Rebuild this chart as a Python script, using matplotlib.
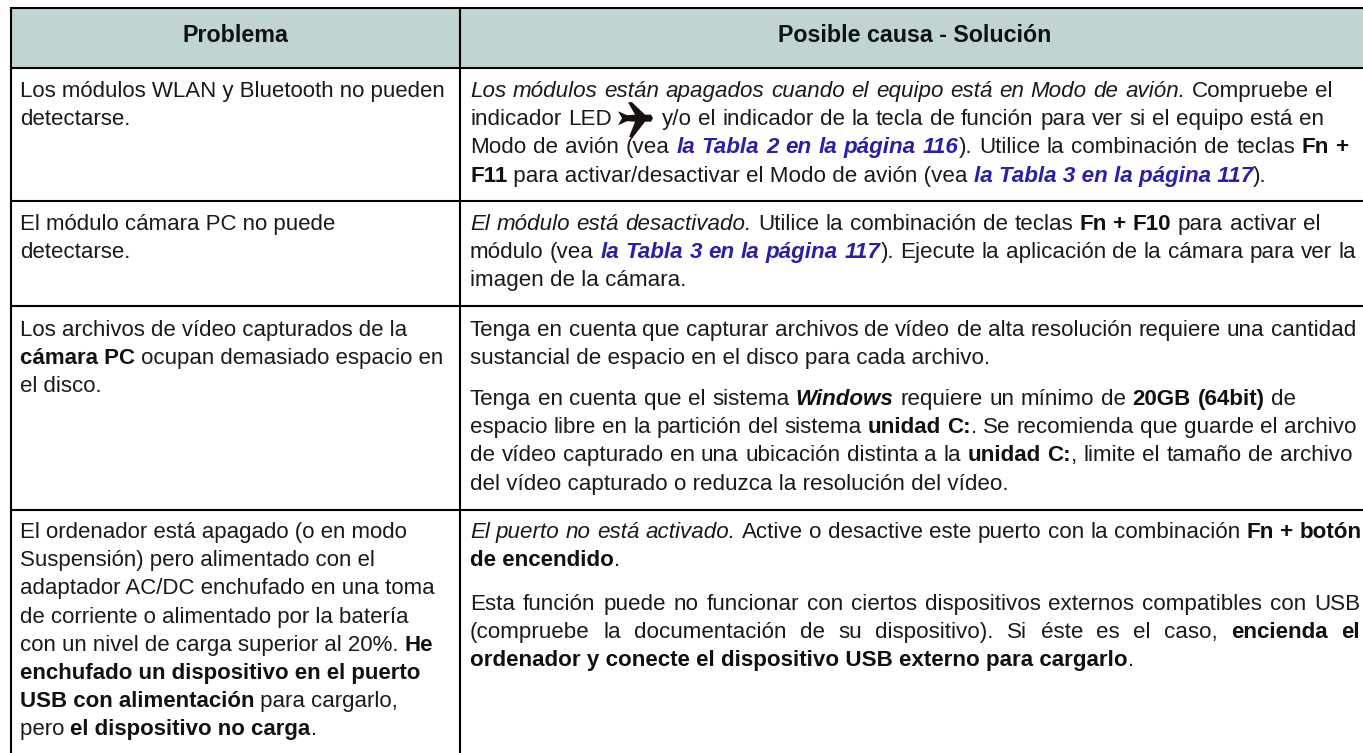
import matplotlib
matplotlib.use("Agg")
import matplotlib.pyplot as plt
from matplotlib.patches import Rectangle, Polygon

W, H = 1363, 753
HEADERS = ["Problema", "Posible causa - Solución"]
LEFT = [
    (97, [[("r", "Los módulos WLAN y Bluetooth no pueden")], [("r", "detectarse.")]]),
    (230, [[("r", "El módulo cámara PC no puede")], [("r", "detectarse.")]]),
    (336, [[("r", "Los archivos de vídeo capturados de la")],
           [("b", "cámara PC"), ("r", " ocupan demasiado espacio en")],
           [("r", "el disco.")]]),
    (538, [[("r", "El ordenador está apagado (o en modo")],
           [("r", "Suspensión) pero alimentado con el")],
           [("r", "adaptador AC/DC enchufado en una toma")],
           [("r", "de corriente o alimentado por la batería")],
           [("r", "con un nivel de carga superior al 20%. "), ("b", "He")],
           [("b", "enchufado un dispositivo en el puerto")],
           [("b", "USB con alimentación"), ("r", " para cargarlo,")],
           [("r", "pero "), ("b", "el dispositivo no carga"), ("r", ".")]]),
]
RIGHT = [
    (97, [[("i", "Los módulos están apagados cuando el equipo está en Modo de avión."), ("r", " Compruebe el")],
          [("r", "indicador LED "), ("p", ""), ("r", " y/o el indicador de la tecla de función para ver si el equipo está en")],
          [("r", "Modo de avión (vea "), ("l", "la Tabla 2 en la página 116"), ("r", "). Utilice la combinación de teclas "), ("b", "Fn +")],
          [("b", "F11"), ("r", " para activar/desactivar el Modo de avión (vea "), ("l", "la Tabla 3 en la página 117"), ("r", ").")]]),
    (230, [[("i", "El módulo está desactivado."), ("r", " Utilice la combinación de teclas "), ("b", "Fn + F10"), ("r", " para activar el")],
           [("r", "módulo (vea "), ("l", "la Tabla 3 en la página 117"), ("r", "). Ejecute la aplicación de la cámara para ver la")],
           [("r", "imagen de la cámara.")]]),
    (336, [[("r", "Tenga en cuenta que capturar archivos de vídeo de alta resolución requiere una cantidad")],
           [("r", "sustancial de espacio en el disco para cada archivo.")]]),
    (405, [[("r", "Tenga en cuenta que el sistema "), ("bi", "Windows"), ("r", " requiere un mínimo de "), ("b", "20GB (64bit)"), ("r", " de")],
           [("r", "espacio libre en la partición del sistema "), ("b", "unidad C:"), ("r", ". Se recomienda que guarde el archivo")],
           [("r", "de vídeo capturado en una ubicación distinta a la "), ("b", "unidad C:"), ("r", ", limite el tamaño de archivo")],
           [("r", "del vídeo capturado o reduzca la resolución del vídeo.")]]),
    (538, [[("i", "El puerto no está activado."), ("r", " Active o desactive este puerto con la combinación "), ("b", "Fn + botón")],
           [("b", "de encendido"), ("r", ".")]]),
    (610, [[("r", "Esta función puede no funcionar con ciertos dispositivos externos compatibles con USB")],
           [("r", "(compruebe la documentación de su dispositivo). Si éste es el caso, "), ("b", "encienda el")],
           [("b", "ordenador y conecte el dispositivo USB externo para cargarlo"), ("r", ".")]]),
]
# right edges of the justified lines: (block, line) -> x
RIGHT_EDGES = {(0, 0): 1333, (0, 1): 1324, (0, 2): 1349,
               (1, 0): 1320, (1, 1): 1356,
               (2, 0): 1356,
               (3, 0): 1296, (3, 1): 1356, (3, 2): 1352,
               (4, 0): 1360,
               (5, 0): 1360, (5, 1): 1360}
STYLES = {"r": ("normal", "normal", "#1a1a1a"), "b": ("bold", "normal", "#111111"),
          "i": ("normal", "italic", "#1a1a1a"), "bi": ("bold", "italic", "#111111"),
          "l": ("bold", "italic", "#2a1fa8")}
X0, X1, X2 = 11, 460, 1364
YS = [7.7, 67.7, 201, 306, 510]
PITCH = 28.2
PT_LEFT, PT_RIGHT, PT_HEAD = 16.05, 16.1, 16.75
LW = 1.5
FAM = "Liberation Sans"
PLANE_ADV = 37

fig = plt.figure(figsize=(W / 100, H / 100), dpi=100)
ax = fig.add_axes([0, 0, 1, 1])
ax.set_xlim(0, W); ax.set_ylim(H, 0); ax.axis("off")
ax.add_patch(Rectangle((X0, YS[0]), X2 - X0, YS[1] - YS[0], fc="#c0d5d3", ec="none"))
for y in YS:
    ax.plot([X0, X2], [y, y], color="#000", lw=LW, solid_capstyle="butt")
for x in (X0, X1):
    ax.plot([x, x], [YS[0] - 1, H + 1], color="#000", lw=LW, solid_capstyle="butt")
ax.text(235.5, 42, HEADERS[0], ha="center", va="baseline", family=FAM, weight="bold", fontsize=PT_HEAD, color="#111")
ax.text(915, 42, HEADERS[1], ha="center", va="baseline", family=FAM, weight="bold", fontsize=PT_HEAD, color="#111")
fig.canvas.draw()
rend = fig.canvas.get_renderer()


def width(s, st, pt):
    w, sl, _ = STYLES[st]
    def m(t):
        tx = ax.text(0, 0, t, family=FAM, weight=w, style=sl, fontsize=pt)
        r = tx.get_window_extent(rend).width
        tx.remove()
        return r
    return m("x" + s + "x") - m("xx")


def draw_plane(x, y):
    pts = [(0, -7), (9, -3), (17, -3.5), (10, -16), (14, -16), (27, -3.5), (33, -3.5), (35, 0),
           (33, 3.5), (27, 3.5), (15, 19), (11, 19), (17, 3.5), (9, 3), (0, 7), (4, 0)]
    ax.add_patch(Polygon([(x + a, y - 7 + b) for a, b in pts], fc="#1a1010", ec="none"))


def draw_block(x0, blocks, pt, edges):
    for b, (y0, lines) in enumerate(blocks):
        for k, runs in enumerate(lines):
            y = y0 + k * PITCH
            natural = sum(PLANE_ADV if st == "p" else width(s, st, pt) for st, s in runs)
            spaces = sum(s.count(" ") for st, s in runs if st != "p")
            extra = (edges[(b, k)] - x0 - natural) / spaces if (b, k) in edges and spaces else 0
            x = x0
            for st, s in runs:
                if st == "p":
                    draw_plane(x, y)
                    x += PLANE_ADV
                    continue
                w, sl, c = STYLES[st]
                if extra == 0:
                    ax.text(x, y, s, family=FAM, weight=w, style=sl, fontsize=pt, color=c, va="baseline", ha="left")
                    x += width(s, st, pt)
                    continue
                words = s.split(" ")
                for i, word in enumerate(words):
                    if word:
                        ax.text(x, y, word, family=FAM, weight=w, style=sl, fontsize=pt, color=c, va="baseline", ha="left")
                        x += width(word, st, pt)
                    if i < len(words) - 1:
                        x += width(" ", st, pt) + extra


draw_block(20, LEFT, PT_LEFT, {})
draw_block(470, RIGHT, PT_RIGHT, RIGHT_EDGES)
fig.savefig("out.png", dpi=100)
